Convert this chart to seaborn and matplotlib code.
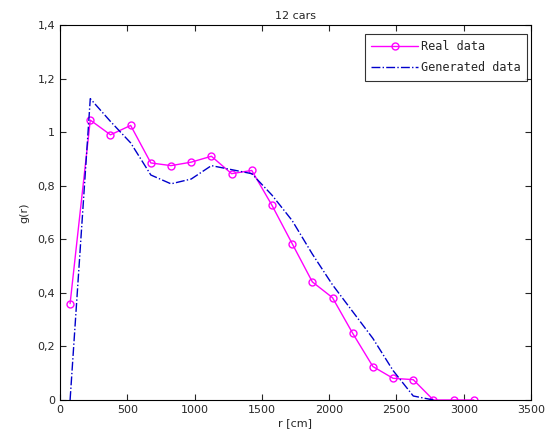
import numpy as np
import pandas as pd
import seaborn as sns
import matplotlib
matplotlib.use('Agg')
import matplotlib.pyplot as plt
from matplotlib.ticker import FuncFormatter

# distances (cm) and pair correlation values
r_real = [75, 225, 375, 525, 675, 825, 975, 1125, 1275, 1425, 1575,
          1725, 1875, 2025, 2175, 2325, 2475, 2625, 2775, 2925, 3075]
g_real = [0.36, 1.045, 0.99, 1.025, 0.885, 0.875, 0.888, 0.91, 0.845, 0.857, 0.727,
          0.584, 0.441, 0.382, 0.249, 0.125, 0.081, 0.076, 0.0, 0.0, 0.0]

r_gen = [75, 225, 375, 525, 675, 825, 975, 1125, 1275, 1425, 1575,
         1725, 1875, 2025, 2175, 2325, 2475, 2625, 2775]
g_gen = [0.0, 1.125, 1.04, 0.96, 0.84, 0.807, 0.825, 0.875, 0.86, 0.845, 0.765,
         0.67, 0.545, 0.43, 0.33, 0.23, 0.11, 0.015, 0.0]

df_real = pd.DataFrame({'r': r_real, 'g': g_real})
df_gen = pd.DataFrame({'r': r_gen, 'g': g_gen})

sns.set_style('ticks')
plt.rcParams['font.family'] = ['DejaVu Sans']

fig = plt.figure(figsize=(5.51, 4.38), dpi=100)
ax = fig.add_axes([60/551, 38/438, 471/551, 375/438])

sns.lineplot(data=df_real, x='r', y='g', ax=ax, color='#ff00ff', linewidth=1,
             marker='o', markersize=5, markerfacecolor='none',
             markeredgecolor='#ff00ff', markeredgewidth=1, label='Real data')
sns.lineplot(data=df_gen, x='r', y='g', ax=ax, color='#0000cc', linewidth=1,
             linestyle='-.', label='Generated data')

ax.set_xlim(0, 3500)
ax.set_ylim(0, 1.4)
ax.set_xticks(np.arange(0, 3501, 500))
ax.set_yticks(np.arange(0, 1.41, 0.2))
ax.yaxis.set_major_formatter(FuncFormatter(lambda v, p: ('%g' % round(v, 1)).replace('.', ',')))
ax.tick_params(direction='in', top=True, right=True, labelsize=8, length=4, width=0.8)
for s in ax.spines.values():
    s.set_visible(True)
    s.set_linewidth(0.8)
    s.set_color('black')

ax.set_title('12 cars', fontsize=8, pad=4)
ax.set_xlabel('r [cm]', fontsize=8, labelpad=2)
ax.set_ylabel('g(r)', fontsize=8, labelpad=6)

leg = ax.legend(loc='upper right', bbox_to_anchor=(0.9915, 0.976), borderaxespad=0,
                frameon=True, fancybox=False, edgecolor='black',
                handlelength=4.0, handletextpad=0.2, labelspacing=0.65, borderpad=0.55,
                prop={'family': 'DejaVu Sans Mono', 'size': 8.5})
leg.get_frame().set_linewidth(0.8)

fig.savefig('out.png', dpi=100)
